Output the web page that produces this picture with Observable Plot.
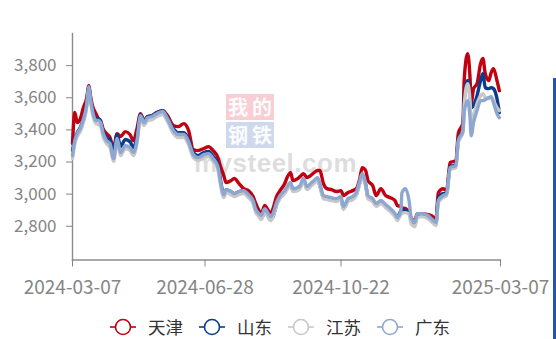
<!DOCTYPE html>
<html>
<head>
<meta charset="utf-8">
<script src="https://cdn.jsdelivr.net/npm/d3@7"></script>
<script src="https://cdn.jsdelivr.net/npm/@observablehq/plot@0.6"></script>
<style>
  html, body { margin: 0; padding: 0; background: #fff; }
  #wrap { position: relative; width: 556px; height: 339px; overflow: hidden; font-family: "Noto Sans CJK SC", "Liberation Sans", sans-serif; }
  #chart { position: absolute; left: 0; top: 0; z-index: 2; }
  #chart svg { background: transparent; }
  .box { position: absolute; width: 24px; height: 26px; color: rgba(255,255,255,0.95); font-size: 20px; line-height: 26px; text-align: center; font-family: "Noto Sans CJK SC", sans-serif; font-weight: bold; z-index: 1; }
  #wmtext { position: absolute; z-index: 1; left: 194px; top: 152px; font: bold 26px "Liberation Sans", Arial, sans-serif; line-height: 22px; height: 22px; color: rgba(165,165,165,0.38); letter-spacing: 0.5px; }
  #legend { position: absolute; left: 110px; top: 315px; display: flex; align-items: center; height: 24px; z-index: 3; }
  .item { display: flex; align-items: center; margin-right: 16px; }
  .item span { font-size: 17.5px; color: #333; margin-left: 12px; line-height: 24px; }
  #edge { position: absolute; left: 553px; top: 78px; width: 3px; height: 261px; background: #2356ad; z-index: 3; }
</style>
</head>
<body>
<div id="wrap">
  <div class="box" style="left:226px;top:94px;background:rgba(232,120,132,0.36)">我</div>
  <div class="box" style="left:250px;top:94px;background:rgba(232,120,132,0.36)">的</div>
  <div class="box" style="left:226px;top:122px;background:rgba(120,150,205,0.36)">钢</div>
  <div class="box" style="left:250px;top:122px;background:rgba(120,150,205,0.36)">铁</div>
  <div id="wmtext">mysteel.com</div>
  <div id="chart"></div>
  <div id="legend"></div>
  <div id="edge"></div>
</div>
<script>
const dates = [
"2024-03-07","2024-03-09","2024-03-11","2024-03-14","2024-03-16","2024-03-19","2024-03-21","2024-03-22","2024-03-24","2024-03-27",
"2024-03-29","2024-03-31","2024-04-02","2024-04-05","2024-04-08","2024-04-11","2024-04-14","2024-04-17","2024-04-21","2024-04-25",
"2024-04-28","2024-05-01","2024-05-04","2024-05-07","2024-05-10","2024-05-14","2024-05-18","2024-05-23","2024-05-27","2024-06-01",
"2024-06-05","2024-06-10","2024-06-14","2024-06-18","2024-06-22","2024-06-27","2024-07-01","2024-07-05","2024-07-09","2024-07-11",
"2024-07-14","2024-07-16","2024-07-20","2024-07-23","2024-07-27","2024-07-31","2024-08-04","2024-08-08","2024-08-10","2024-08-13",
"2024-08-15","2024-08-18","2024-08-20","2024-08-23","2024-08-25","2024-08-28","2024-08-31","2024-09-04","2024-09-06","2024-09-09",
"2024-09-11","2024-09-15","2024-09-17","2024-09-20","2024-09-23","2024-09-26","2024-09-29","2024-10-02","2024-10-04","2024-10-07",
"2024-10-10","2024-10-14","2024-10-18","2024-10-22","2024-10-24","2024-10-28","2024-11-01","2024-11-04","2024-11-07","2024-11-09",
"2024-11-12","2024-11-14","2024-11-18","2024-11-21","2024-11-25","2024-11-29","2024-12-03","2024-12-07","2024-12-09","2024-12-12",
"2024-12-13","2024-12-16","2024-12-19","2024-12-21","2024-12-24","2024-12-26","2024-12-30","2025-01-04","2025-01-07","2025-01-11",
"2025-01-13","2025-01-17","2025-01-20","2025-01-23","2025-01-28","2025-01-30","2025-02-03","2025-02-04","2025-02-07","2025-02-09",
"2025-02-10","2025-02-12","2025-02-15","2025-02-18","2025-02-20","2025-02-22","2025-02-25","2025-02-27","2025-03-01","2025-03-04",
"2025-03-06"
];

const tianjin = [
3315,3508,3445,3476,3532,3595,3676,3626,3551,3501,
3470,3458,3408,3377,3352,3284,3377,3358,3389,3371,
3333,3408,3501,3458,3483,3489,3508,3520,3489,3427,
3420,3439,3396,3277,3271,3284,3296,3271,3227,3178,
3115,3072,3084,3097,3066,3034,3022,2985,2947,2898,
2879,2929,2910,2879,2910,2985,3022,3066,3103,3134,
3084,3097,3109,3128,3103,3115,3134,3147,3147,3066,
3034,3028,3016,3022,2991,3010,3022,3034,3097,3165,
3147,3084,3053,2991,3034,2991,2978,2960,2929,2923,
2916,2910,2885,2848,2835,2879,2879,2873,2867,2848,
3010,3034,3022,3196,3209,3377,3445,3707,3875,3725,
3564,3657,3688,3812,3844,3750,3707,3756,3781,3707,
3644
];

const shandong = [
3271,3340,3383,3420,3464,3557,3669,3613,3526,3470,
3470,3452,3396,3352,3340,3259,3371,3296,3340,3327,
3290,3358,3495,3452,3483,3489,3508,3520,3476,3408,
3383,3383,3340,3259,3240,3259,3265,3234,3184,3097,
2997,3028,3016,3003,3016,3022,2997,2960,2916,2867,
2848,2891,2873,2842,2860,2935,2978,3016,3034,3059,
3022,3028,3041,3084,3034,3053,3072,3090,3053,2978,
2972,2966,2960,2972,2910,2960,2972,2997,3072,3115,
3059,2978,2960,2929,2947,2923,2898,2873,2854,2898,
2904,2898,2885,2842,2817,2873,2873,2860,2842,2823,
2972,3003,3003,3171,3184,3340,3402,3582,3707,3613,
3539,3551,3613,3707,3750,3663,3657,3663,3657,3595,
3508
];

const jiangsu = [
3221,3315,3358,3396,3439,3532,3651,3595,3501,3439,
3433,3420,3358,3315,3290,3203,3327,3240,3284,3271,
3240,3315,3470,3427,3458,3464,3483,3495,3452,3377,
3352,3352,3308,3227,3209,3227,3234,3203,3153,3066,
2978,3010,2997,2985,2997,3003,2978,2941,2891,2860,
2842,2885,2867,2835,2860,2929,2972,3003,3028,3053,
3016,3022,3034,3078,3028,3047,3066,3084,3047,2972,
2966,2960,2954,2966,2904,2954,2966,2991,3066,3109,
3047,2972,2954,2923,2941,2916,2891,2860,2835,2873,
2879,2885,2873,2811,2798,2854,2860,2848,2829,2804,
2947,2978,2991,3153,3165,3321,3383,3551,3688,3582,
3458,3489,3564,3613,3626,3601,3595,3607,3582,3539,
3520
];

const guangdong = [
3240,3333,3377,3414,3458,3551,3669,3613,3520,3458,
3458,3445,3383,3333,3315,3221,3346,3259,3302,3290,
3259,3333,3489,3445,3476,3483,3501,3514,3470,3396,
3371,3371,3327,3246,3227,3246,3252,3221,3171,3084,
2997,3028,3016,3003,3016,3022,2997,2960,2910,2879,
2867,2910,2891,2860,2879,2947,2991,3022,3047,3072,
3034,3041,3053,3097,3047,3066,3084,3103,3066,2991,
2985,2978,2972,2985,2923,2972,2985,3010,3084,3128,
3066,2991,2972,2941,2960,2935,2910,2879,2854,2898,
3010,3034,2960,2848,2823,2879,2879,2867,2848,2823,
2960,2991,3003,3165,3178,3333,3396,3508,3582,3476,
3364,3445,3520,3582,3582,3588,3601,3607,3570,3501,
3476
];

const seriesNames = ["天津", "山东", "江苏", "广东"];
const seriesColors = ["#c10010", "#0c3c8e", "#c8c8c8", "#8ea7d0"];
const xTickLabels = ["2024-03-07", "2024-06-28", "2024-10-22", "2025-03-07"];
const yTickValues = [2800, 3000, 3200, 3400, 3600, 3800];

const parse = d3.utcParse("%Y-%m-%d");
const seriesValues = [tianjin, shandong, jiangsu, guangdong];
const data = seriesNames.flatMap((name, i) =>
  dates.map((d, j) => ({ date: parse(d), value: seriesValues[i][j], series: name }))
);

const chart = Plot.plot({
  width: 556,
  height: 305,
  marginTop: 33,
  marginBottom: 45.5,
  marginLeft: 72,
  marginRight: 56,
  style: { fontFamily: "'Noto Sans CJK SC', 'Liberation Sans', sans-serif", background: "transparent", overflow: "visible" },
  x: { type: "utc", domain: [parse(xTickLabels[0]), parse(xTickLabels[xTickLabels.length - 1])] },
  y: { domain: [2590, 4000] },
  color: { domain: seriesNames, range: seriesColors },
  marks: [
    Plot.frame({ anchor: "left", stroke: "#8c8c8c", strokeWidth: 1.4 }),
    Plot.frame({ anchor: "bottom", stroke: "#8c8c8c", strokeWidth: 1.4 }),
    Plot.axisY({ ticks: yTickValues, tickFormat: d3.format(","), tickSize: 6, tickPadding: 10, fontSize: 17, color: "#858585", label: null }),
    Plot.axisX({ ticks: xTickLabels.map(parse), tickFormat: d3.utcFormat("%Y-%m-%d"), tickSize: 7, tickPadding: 13, fontSize: 19, color: "#858585", label: null }),
    Plot.lineY(data, { x: "date", y: "value", stroke: "series", z: "series", strokeWidth: 3.4, curve: "monotone-x" })
  ]
});
document.getElementById("chart").appendChild(chart);

const legend = document.getElementById("legend");
seriesNames.forEach((name, i) => {
  const item = document.createElement("div");
  item.className = "item";
  item.innerHTML = `<svg width="26" height="18" viewBox="0 0 26 18"><line x1="0" y1="9" x2="26" y2="9" stroke="${seriesColors[i]}" stroke-width="1.6"/><circle cx="13" cy="9" r="7.5" fill="#fff" stroke="${seriesColors[i]}" stroke-width="1.6"/></svg><span>${name}</span>`;
  legend.appendChild(item);
});
</script>
</body>
</html>
